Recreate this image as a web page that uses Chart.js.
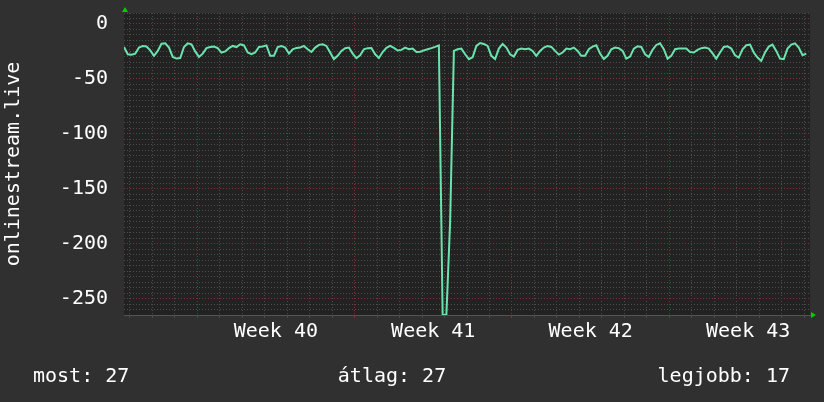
<!DOCTYPE html>
<html>
<head>
<meta charset="utf-8">
<script src="https://cdn.jsdelivr.net/npm/chart.js"></script>
<style>
  html, body { margin: 0; padding: 0; background: #303030; }
  #wrap { width: 824px; height: 402px; }
</style>
</head>
<body>
<div id="wrap"><canvas id="myChart" width="824" height="402"></canvas></div>
<script>

// one sample every 4 hours, starting at the left edge of the graph
var sampleHours = 4;
var signal = [
  -21, -27.6, -28, -27, -21.5, -20, -20.5, -24, -29, -24.5,
  -18, -17.6, -21.5, -30, -31.5, -31, -21, -17.6, -18.5, -25,
  -30, -27, -22, -21, -20.5, -22, -26, -25, -22, -20,
  -21, -18.5, -19.5, -26, -27.5, -26, -21, -20.5, -19.5, -29,
  -29, -21, -20, -21.5, -27, -23, -21.8, -21.5, -20, -23,
  -25.5, -21.5, -19, -18.5, -20, -26, -32, -29, -24.5, -22,
  -21.5, -27, -31, -28.5, -23, -22, -21.8, -27.6, -31, -25.5,
  -21.8, -20, -21.8, -24.2, -23.6, -21.5, -23, -22.4, -25.5, -25.2,
  -24, -23, -22, -20.9, -19.5, -265, -265, -180, -24.5, -23,
  -22.4, -27.6, -32, -30.3, -20, -17.3, -18.2, -20, -29, -32,
  -22.4, -18.2, -21.5, -27.6, -29.7, -23.6, -22.4, -23, -22.4, -24.5,
  -29, -24.5, -21.5, -20, -20.9, -24.5, -27.9, -26, -22.4, -23,
  -21.5, -24.5, -29, -29, -23, -20.6, -19.4, -27, -32, -29,
  -23, -21.5, -22, -24.5, -31.5, -29.7, -22.4, -20.3, -20.9, -27.6,
  -30, -23.6, -19.1, -17.6, -23, -31.5, -29, -23, -22.4, -22.4,
  -22.4, -25.5, -26, -23.6, -22, -21.5, -22.4, -26.7, -31.5, -26,
  -20.9, -20.3, -22.4, -28.5, -30.6, -23, -19.4, -18.8, -26, -30.6,
  -33.6, -26, -20.6, -18.8, -24.5, -31.5, -32, -22.4, -18.8, -17.6,
  -21.5, -28.5, -27
];

var weekLabels = ["Week 40", "Week 41", "Week 42", "Week 43"];
var weekStartHours = [78, 246, 414, 582];
var yLabelValues = [0, -50, -100, -150, -200, -250];
var legendTexts = ["most: 27", "átlag: 27", "legjobb: 17"];

var xMax = 732;
var yMin = -265, yMax = 10;

var font = { family: "'DejaVu Sans Mono', monospace", size: 20 };
var gridGray = '#4c4c4c';
var gridRed = '#7a3434';

var points = signal.map(function (v, i) { return { x: i * sampleHours, y: v }; });

// daily grid lines plus the week label positions (mid-week)
var dayLines = [];
for (var h = 6; h <= xMax; h += 24) dayLines.push(h);
var labelAt = {};
weekStartHours.forEach(function (h, i) { labelAt[h + 84] = weekLabels[i]; });
var xTicks = dayLines.concat(Object.keys(labelAt).map(Number)).sort(function (a, b) { return a - b; });

var yTicks = [];
for (var v = yMax; v >= yMin; v -= 5) yTicks.push(v);

function xGridColor(ctx) {
  var val = ctx.tick ? ctx.tick.value : null;
  if (val === null || labelAt[val] !== undefined && (val - 6) % 24 !== 0) return 'rgba(0,0,0,0)';
  return weekStartHours.indexOf(val) >= 0 ? gridRed : gridGray;
}

function yGridColor(ctx) {
  var val = ctx.tick ? ctx.tick.value : null;
  if (val === null) return 'rgba(0,0,0,0)';
  return val % 50 === 0 ? gridRed : gridGray;
}

var rrdLook = {
  id: 'rrdLook',
  beforeDraw: function (chart) {
    var c = chart.ctx, a = chart.chartArea;
    c.save();
    c.fillStyle = '#303030';
    c.fillRect(0, 0, chart.width, chart.height);
    c.fillStyle = '#222222';
    c.fillRect(a.left, a.top, a.right - a.left, a.bottom - a.top);
    c.restore();
  },
  afterDraw: function (chart) {
    var c = chart.ctx, a = chart.chartArea;
    c.save();
    // arrows at the axis ends
    c.fillStyle = '#00d000';
    c.beginPath();
    c.moveTo(a.left + 1, a.top - 6);
    c.lineTo(a.left - 2, a.top - 1);
    c.lineTo(a.left + 4, a.top - 1);
    c.closePath();
    c.fill();
    c.beginPath();
    c.moveTo(a.right + 6, a.bottom);
    c.lineTo(a.right + 1, a.bottom - 3);
    c.lineTo(a.right + 1, a.bottom + 3);
    c.closePath();
    c.fill();
    // legend line
    c.fillStyle = '#ffffff';
    c.font = font.size + 'px ' + font.family;
    c.textBaseline = 'alphabetic';
    c.textAlign = 'left';
    c.fillText(legendTexts[0], 33, 382);
    c.textAlign = 'center';
    c.fillText(legendTexts[1], 392, 382);
    c.textAlign = 'right';
    c.fillText(legendTexts[2], 790, 382);
    c.restore();
  }
};

new Chart("myChart", {
  type: 'line',
  data: {
    datasets: [{
      data: points,
      borderColor: '#6be3ad',
      borderWidth: 2,
      pointRadius: 0,
      tension: 0,
      fill: false
    }]
  },
  options: {
    responsive: false,
    animation: false,
    devicePixelRatio: 1,
    layout: { padding: { top: 13, right: 14, left: 0, bottom: 0 } },
    plugins: { legend: { display: false }, tooltip: { enabled: false } },
    scales: {
      x: {
        type: 'linear',
        min: 0,
        max: xMax,
        afterBuildTicks: function (s) { s.ticks = xTicks.map(function (v) { return { value: v }; }); },
        afterFit: function (s) { s.height = 87; s.paddingLeft = 0; s.paddingRight = 0; },
        grid: { color: xGridColor, tickColor: xGridColor, lineWidth: 1, drawTicks: true, tickLength: 3 },
        border: { display: true, color: '#555555', dash: [1, 2] },
        ticks: {
          autoSkip: false,
          maxRotation: 0,
          color: '#ffffff',
          font: font,
          padding: 2,
          callback: function (value) { return labelAt[value] || ''; }
        }
      },
      y: {
        type: 'linear',
        min: yMin,
        max: yMax,
        afterBuildTicks: function (s) { s.ticks = yTicks.map(function (v) { return { value: v }; }); },
        afterFit: function (s) { s.width = 124; s.paddingTop = 0; s.paddingBottom = 0; },
        grid: { color: yGridColor, lineWidth: 1, drawTicks: false },
        border: { display: false, dash: [1, 2] },
        ticks: {
          autoSkip: false,
          color: '#ffffff',
          font: font,
          padding: 16,
          callback: function (value) { return yLabelValues.indexOf(value) >= 0 ? String(value) : ''; }
        },
        title: {
          display: true,
          text: 'onlinestream.live',
          color: '#ffffff',
          font: font,
          padding: { top: 2, bottom: 0 }
        }
      }
    }
  },
  plugins: [rrdLook]
});
</script>
</body>
</html>
